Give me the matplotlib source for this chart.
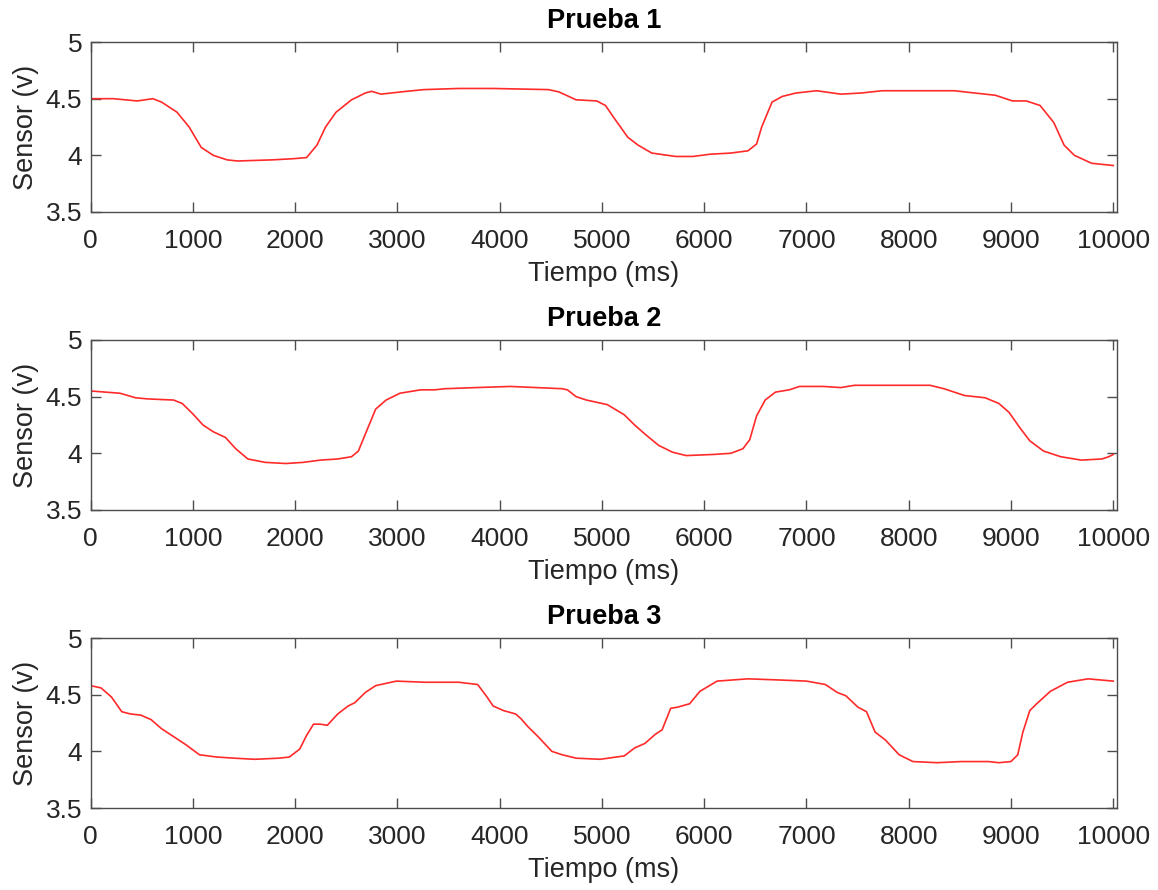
import matplotlib
matplotlib.use("Agg")
import matplotlib.pyplot as plt

plt.rcParams['font.family'] = ['Liberation Sans', 'DejaVu Sans']

# tiempo (ms) y lectura del sensor (v) por prueba
t1 = [0, 220, 456, 608, 693, 845, 963, 1081, 1199, 1334, 1436, 1774, 1976, 2111, 2213,
      2297, 2399, 2551, 2686, 2747, 2838, 3091, 3260, 3598, 3936, 4476, 4578, 4747, 4949,
      5034, 5118, 5252, 5353, 5487, 5722, 5890, 6058, 6260, 6428, 6512, 6562, 6663, 6764,
      6898, 7100, 7335, 7537, 7738, 8108, 8444, 8847, 9015, 9150, 9284, 9418, 9519, 9620,
      9788, 10000]
v1 = [4.50, 4.50, 4.48, 4.50, 4.47, 4.38, 4.25, 4.07, 4.00, 3.96, 3.95, 3.96, 3.97, 3.98,
      4.09, 4.25, 4.38, 4.49, 4.55, 4.565, 4.54, 4.565, 4.58, 4.59, 4.59, 4.58, 4.56, 4.49,
      4.48, 4.44, 4.33, 4.16, 4.09, 4.02, 3.99, 3.99, 4.01, 4.02, 4.04, 4.10, 4.25, 4.47,
      4.52, 4.55, 4.57, 4.54, 4.55, 4.57, 4.57, 4.57, 4.53, 4.48, 4.48, 4.44, 4.29, 4.09,
      4.00, 3.93, 3.91]

t2 = [0, 287, 439, 557, 811, 895, 997, 1098, 1199, 1318, 1419, 1537, 1706, 1909, 2078,
      2247, 2416, 2551, 2618, 2686, 2787, 2889, 3024, 3226, 3361, 3463, 3767, 4105, 4611,
      4662, 4747, 4848, 5051, 5218, 5319, 5420, 5554, 5689, 5823, 6092, 6260, 6378, 6445,
      6512, 6596, 6697, 6831, 6932, 7167, 7335, 7470, 7840, 8209, 8344, 8545, 8747, 8881,
      8982, 9083, 9184, 9318, 9486, 9687, 9889, 9956, 10000]
v2 = [4.55, 4.53, 4.49, 4.48, 4.47, 4.44, 4.35, 4.25, 4.19, 4.14, 4.04, 3.95, 3.92, 3.91,
      3.92, 3.94, 3.95, 3.97, 4.02, 4.17, 4.39, 4.47, 4.53, 4.56, 4.56, 4.57, 4.58, 4.59,
      4.57, 4.56, 4.50, 4.47, 4.43, 4.34, 4.25, 4.17, 4.07, 4.01, 3.98, 3.99, 4.00, 4.04,
      4.12, 4.33, 4.47, 4.54, 4.56, 4.59, 4.59, 4.58, 4.60, 4.60, 4.60, 4.57, 4.51, 4.49,
      4.44, 4.36, 4.23, 4.11, 4.02, 3.97, 3.94, 3.95, 3.97, 3.99]

t3 = [0, 101, 203, 304, 389, 490, 591, 693, 828, 929, 1064, 1233, 1402, 1605, 1841, 1943,
      2044, 2111, 2179, 2247, 2314, 2416, 2517, 2584, 2686, 2787, 2990, 3260, 3598, 3784,
      3868, 3936, 4037, 4155, 4206, 4274, 4375, 4510, 4611, 4747, 4983, 5218, 5319, 5420,
      5521, 5588, 5672, 5739, 5857, 5958, 6126, 6428, 6731, 7000, 7184, 7301, 7386, 7503,
      7587, 7671, 7772, 7906, 8041, 8276, 8511, 8780, 8881, 8999, 9066, 9116, 9184, 9251,
      9385, 9553, 9754, 10000]
v3 = [4.58, 4.56, 4.48, 4.35, 4.33, 4.32, 4.28, 4.20, 4.12, 4.06, 3.97, 3.95, 3.94, 3.93,
      3.94, 3.95, 4.02, 4.14, 4.24, 4.24, 4.23, 4.33, 4.40, 4.43, 4.52, 4.58, 4.62, 4.61,
      4.61, 4.59, 4.49, 4.40, 4.36, 4.33, 4.29, 4.22, 4.13, 4.00, 3.97, 3.94, 3.93, 3.96,
      4.03, 4.07, 4.15, 4.19, 4.38, 4.39, 4.42, 4.53, 4.62, 4.64, 4.63, 4.62, 4.59, 4.52,
      4.49, 4.39, 4.35, 4.17, 4.10, 3.97, 3.91, 3.90, 3.91, 3.91, 3.90, 3.91, 3.97, 4.17,
      4.36, 4.42, 4.53, 4.61, 4.64, 4.62]

titles = ["Prueba 1", "Prueba 2", "Prueba 3"]
xticks = [0, 1000, 2000, 3000, 4000, 5000, 6000, 7000, 8000, 9000, 10000]
yticks = [3.5, 4, 4.5, 5]
ytick_labels = ["3.5", "4", "4.5", "5"]

text_col = "#262626"
axis_col = "#4d4d4d"

fig = plt.figure(figsize=(11.58, 8.9), dpi=100)
bottoms = [0.7618, 0.4270, 0.0921]
series = [(t1, v1), (t2, v2), (t3, v3)]

for i, (t, v) in enumerate(series):
    ax = fig.add_axes([0.0783, bottoms[i], 0.8866, 0.191])
    ax.plot(t, v, color="#ff2a2a", lw=1.2)
    ax.set_xlim(0, 10040)
    ax.set_ylim(3.5, 5)
    ax.set_xticks(xticks)
    ax.set_yticks(yticks)
    ax.set_yticklabels(ytick_labels)
    ax.tick_params(direction="in", length=7, width=1, top=True, right=True,
                   labelsize=19, colors=axis_col, labelcolor=text_col)
    ax.tick_params(axis="x", pad=12)
    ax.tick_params(axis="y", pad=6)
    for s in ax.spines.values():
        s.set_color(axis_col)
        s.set_linewidth(1)
    ax.set_title(titles[i], fontsize=19.5, fontweight="bold", color="black", pad=10)
    ax.set_xlabel("Tiempo (ms)", fontsize=19.5, color=text_col, labelpad=6)
    ax.set_ylabel("Sensor (v)", fontsize=19.5, color=text_col, labelpad=5)

fig.savefig("out.png", dpi=100)
